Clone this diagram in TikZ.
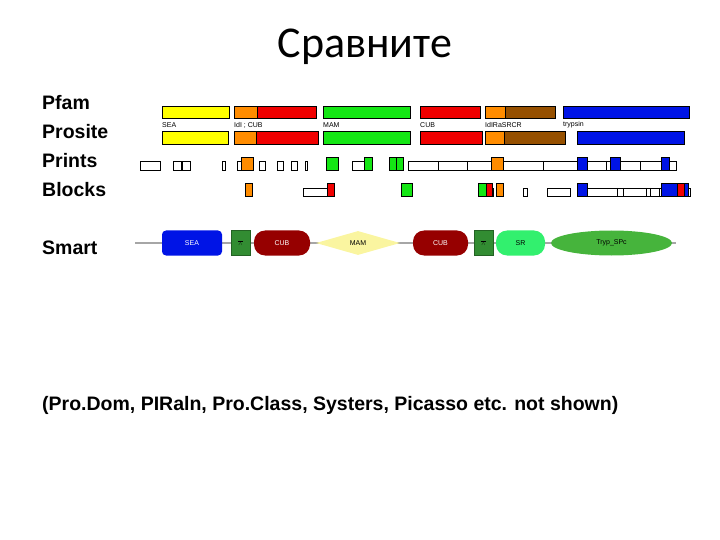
\documentclass[tikz,border=0pt]{standalone}
\usepackage{fontspec}
\setmainfont{Liberation Sans}
\newfontfamily\titlefont{Carlito}
\usetikzlibrary{shapes.geometric}
\definecolor{cyel}{RGB}{255,255,0}
\definecolor{corg}{RGB}{255,140,0}
\definecolor{cred}{RGB}{240,0,0}
\definecolor{cgrn}{RGB}{20,230,20}
\definecolor{cbrn}{RGB}{150,80,0}
\definecolor{cblu}{RGB}{0,20,230}
\definecolor{cdred}{RGB}{150,0,0}
\definecolor{cdgrn}{RGB}{50,140,50}
\definecolor{clgrn}{RGB}{50,240,110}
\definecolor{cmgrn}{RGB}{70,180,60}
\definecolor{cmam}{RGB}{250,245,160}
\tikzset{bar/.style={draw=black,line width=0.8pt},
lab/.style={anchor=west,font=\bfseries\fontsize{19.5}{22}\selectfont,inner sep=0pt},
tiny/.style={anchor=west,font=\fontsize{7}{8}\selectfont,inner sep=0pt},
ob/.style={draw=black,line width=0.6pt,fill=white},
dom/.style={font=\fontsize{7}{8}\selectfont,text=white,inner sep=0pt}}
\begin{document}
\begin{tikzpicture}[x=1pt,y=-1pt]
\useasboundingbox (0,0) rectangle (720,540);
\node[font=\titlefont\fontsize{44}{50}\selectfont] (title) at (365,47) {Сравните};
\node[lab] (l1) at (42,103) {Pfam};
\node[lab] (l2) at (42,132) {Prosite};
\node[lab] (l3) at (42,161) {Prints};
\node[lab] (l4) at (42,190) {Blocks};
\node[lab] (l5) at (42,248) {Smart};
\node[lab] (l6) at (42,405) {(Pro.Dom, PIRaln, Pro.Class, Systers, Picasso etc. not shown)};
% Pfam
\foreach \a/\b/\c in {162/229/cyel,234/257/corg,257/316/cred,323/410/cgrn,420/480/cred,485/505/corg,505/555/cbrn,563/689/cblu}
  \draw[bar,fill=\c] (\a,106) rectangle (\b,118);
% Prosite
\foreach \a/\b/\c in {162/228/cyel,234/256/corg,256/318/cred,323/410/cgrn,420/482/cred,485/504/corg,504/565/cbrn,577/684/cblu}
  \draw[bar,fill=\c] (\a,131) rectangle (\b,144);
\node[tiny] (t1) at (162,125) {SEA};
\node[tiny] (t2) at (234,125) {IdI ; CUB};
\node[tiny] (t3) at (323,125) {MAM};
\node[tiny] (t4) at (420,125) {CUB};
\node[tiny] (t5) at (485,125) {IdIRaSRCR};
\node[tiny] (t6) at (563,125) {trypsin};
% Prints
\draw[ob] (408,161) rectangle (676,170);
\foreach \x in {438,467,543,606,640} \draw (\x,161)--(\x,170);
\foreach \a/\b in {140/160,173/181,182/190,222/225,237/242,259/265,277/283,291/297,305/307,352/364}
  \draw[ob] (\a,161) rectangle (\b,170);
\foreach \a/\b/\c in {241/253/corg,326/338/cgrn,364/372/cgrn,389/396/cgrn,396/403/cgrn,491/503/corg,577/587/cblu,610/620/cblu,661/669/cblu}
  \draw[bar,fill=\c,line width=0.4pt] (\a,157) rectangle (\b,170);
% Blocks
\draw[ob] (587,188) rectangle (690,196);
\foreach \x in {617,623,646,650,659} \draw (\x,188)--(\x,196);
\foreach \a/\b in {303/327,523/527,547/570,486/493}
  \draw[ob] (\a,188) rectangle (\b,196);
\foreach \a/\b/\c in {245/252/corg,327/334/cred,401/412/cgrn,478/486/cgrn,486/492/cred,496/503/corg,577/587/cblu,661/677/cblu,677/684/cred,684/688/cblu}
  \draw[bar,fill=\c,line width=0.4pt] (\a,183) rectangle (\b,196);
% Smart
\coordinate (s0) at (135,243);
\coordinate (s1) at (676,243);
\draw[gray!70,line width=2.5pt] (s0)--(s1);
\node[dom,fill=cblu,rounded corners=4pt,minimum width=60pt,minimum height=25pt] (sea) at (192,243) {SEA};
\node[dom,fill=cdgrn,draw=cdgrn!70!black,minimum width=19pt,minimum height=25pt,text=black] (g1) at (240.5,243) {$\frac{\,}{\wedge}$};
\node[dom,fill=cdred,rounded corners=11pt,minimum width=56pt,minimum height=25pt] (cub1) at (282,243) {CUB};
\node[dom,fill=cmam,diamond,aspect=3.4,minimum width=84pt,minimum height=24pt,text=black] (mam) at (358,243) {MAM};
\node[dom,fill=cdred,rounded corners=11pt,minimum width=55pt,minimum height=25pt] (cub2) at (440.5,243) {CUB};
\node[dom,fill=cdgrn,draw=cdgrn!70!black,minimum width=19pt,minimum height=25pt,text=black] (g2) at (483.5,243) {$\frac{\,}{\wedge}$};
\node[dom,fill=clgrn,rounded corners=11pt,minimum width=49pt,minimum height=25pt,text=black] (sr) at (520.5,243) {SR};
\node[dom,fill=cmgrn,ellipse,minimum width=121pt,minimum height=25pt,text=black] (tryp) at (611.5,243) {Tryp\_SPc};
\end{tikzpicture}
\end{document}
